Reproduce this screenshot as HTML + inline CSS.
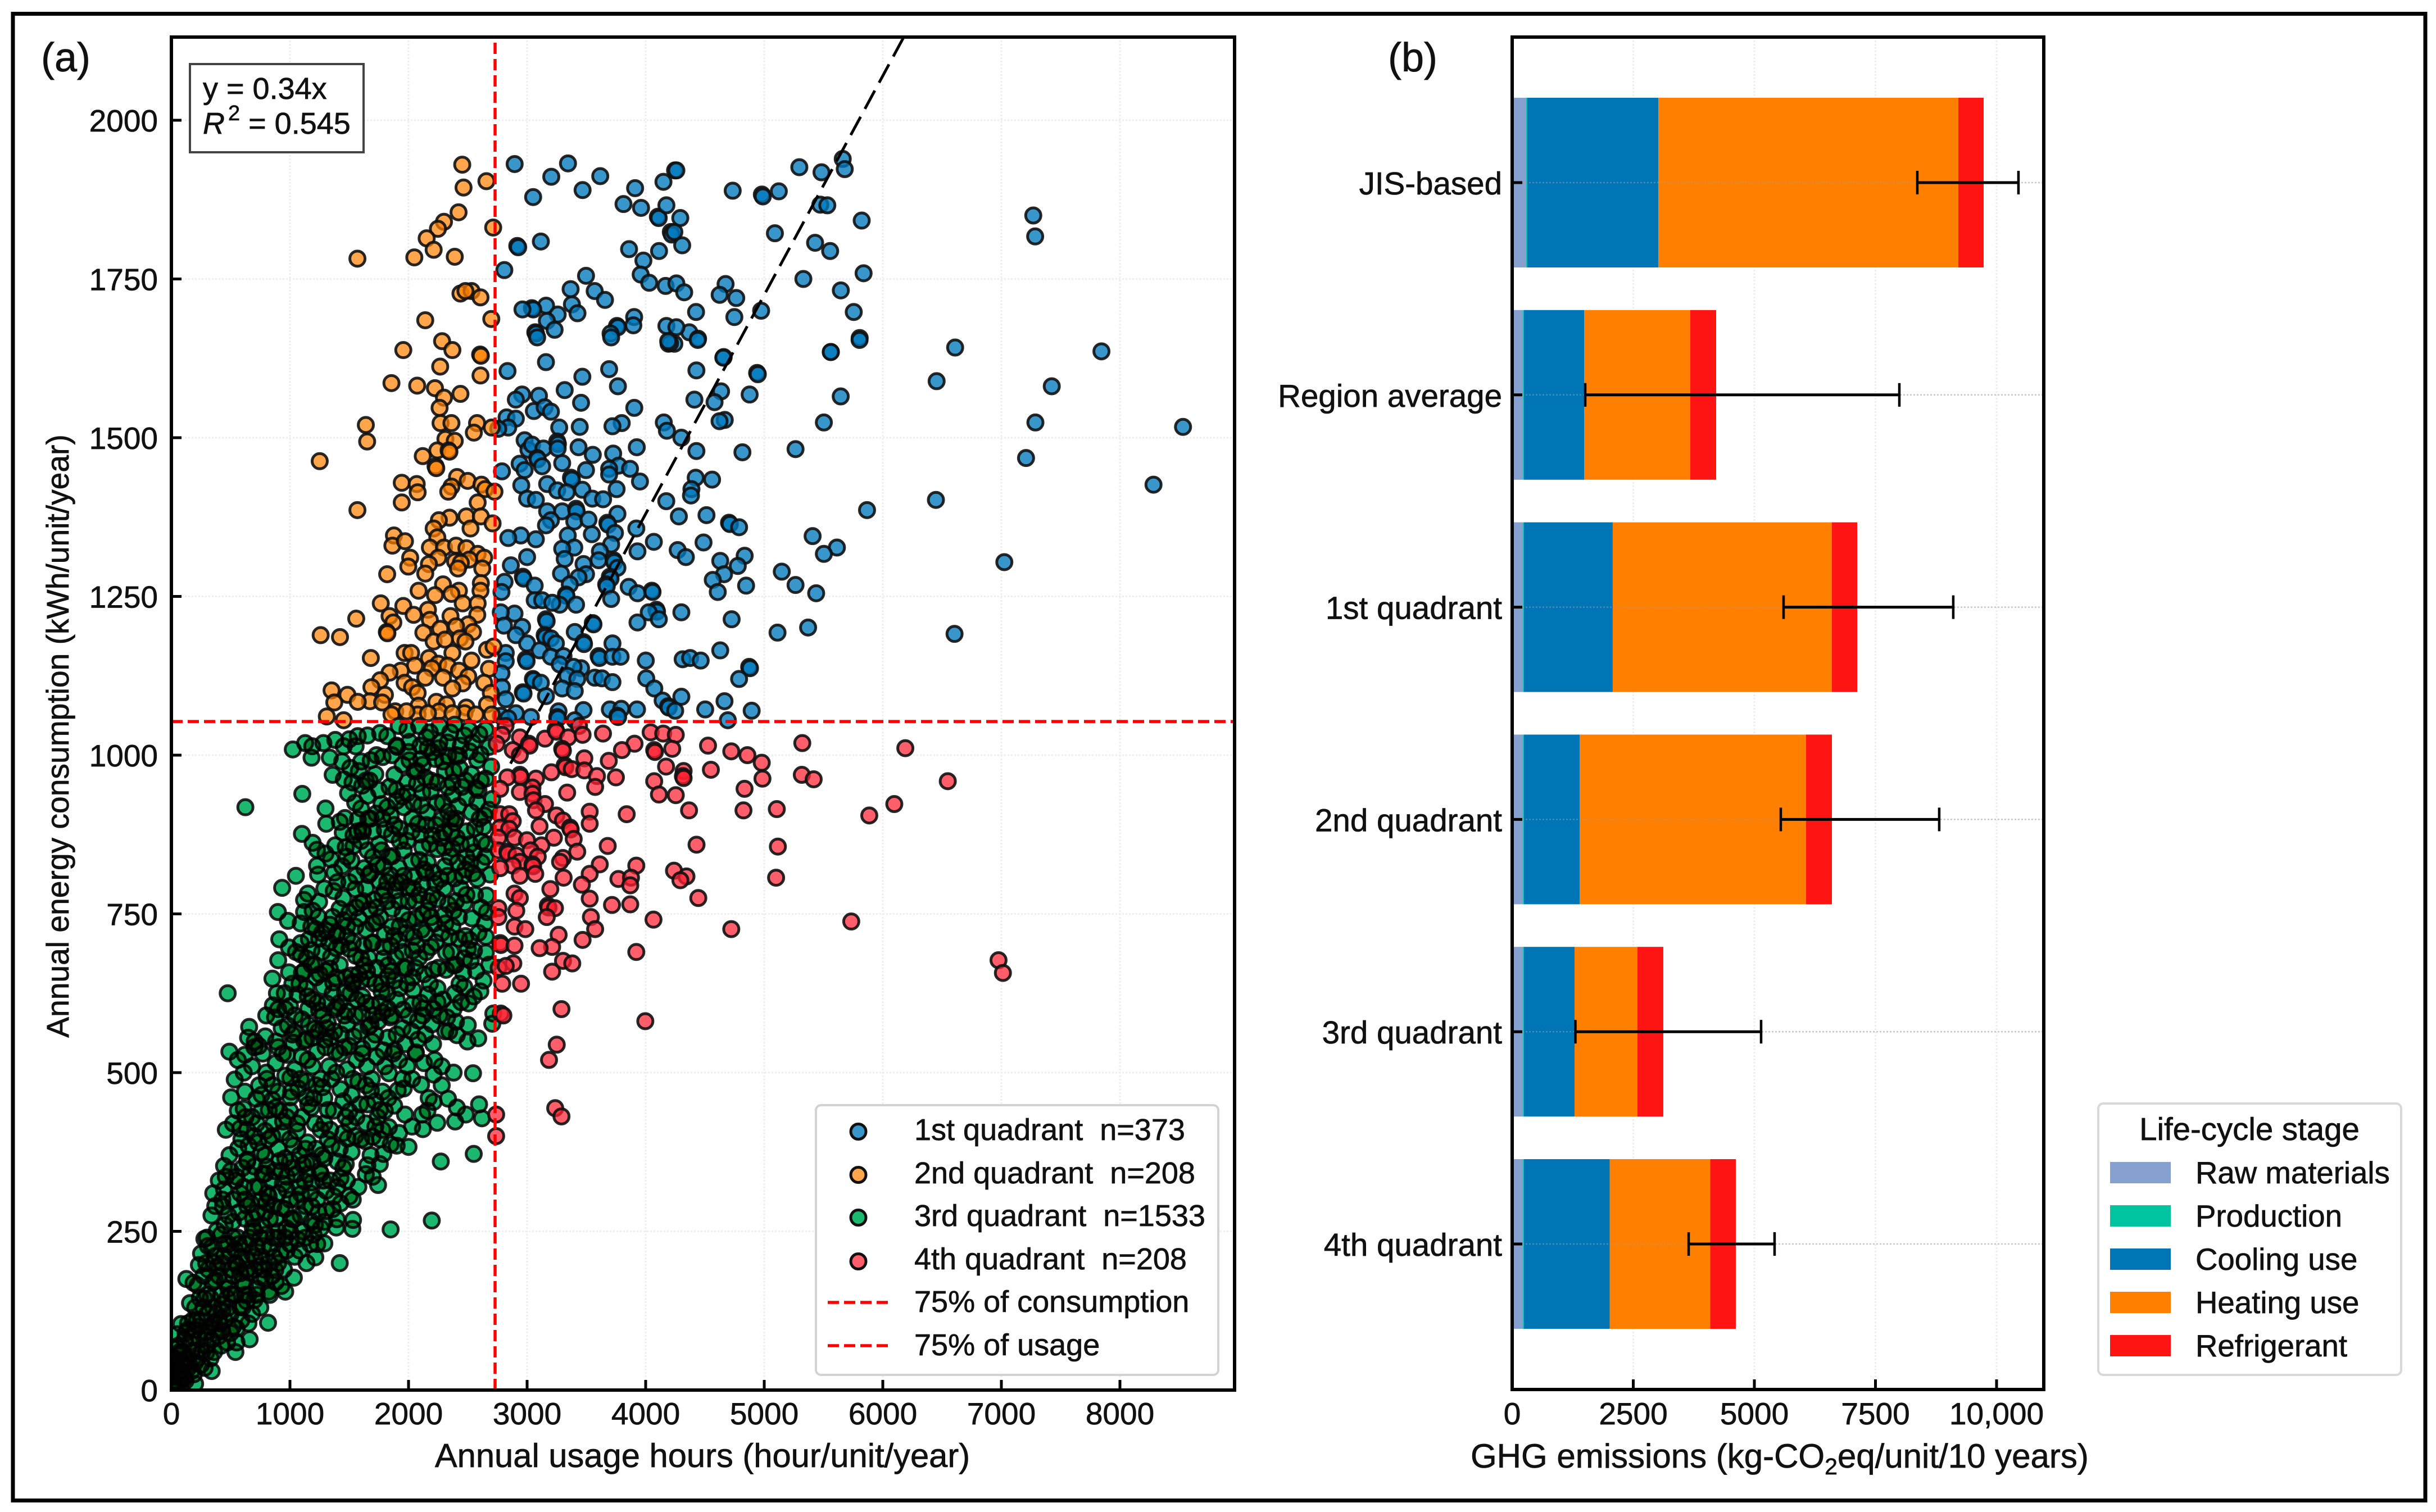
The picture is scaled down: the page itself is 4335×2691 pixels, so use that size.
<!DOCTYPE html>
<html lang="en">
<head>
<meta charset="utf-8">
<title>Energy consumption quadrants and life-cycle GHG emissions</title>
<style>
html,body{margin:0;padding:0;background:#fff;}
svg{display:block;}
text{font-family:"Liberation Sans",sans-serif;fill:#111;stroke:#111;stroke-width:0.7;white-space:pre;}
.multiply circle{mix-blend-mode:multiply;}
</style>
</head>
<body>
<svg id="chart" xmlns="http://www.w3.org/2000/svg" width="4335" height="2691" viewBox="0 0 4335 2691">
<rect x="0" y="0" width="4335" height="2691" fill="#fff"/>
<rect x="23" y="24.5" width="4293" height="2646" fill="none" stroke="#000" stroke-width="7"/>
<defs>
<clipPath id="clipA"><rect x="305" y="66" width="1892" height="2408"/></clipPath>
<clipPath id="clipB"><rect x="2691" y="66" width="946" height="2407"/></clipPath>
</defs>
<g id="panelA"></g>
<g id="panelB"></g>

<text x="73" y="127" font-size="72">(a)</text>
<text x="2470" y="127" font-size="72">(b)</text>

<text x="1250" y="2611" font-size="59.7" text-anchor="middle">Annual usage hours (hour/unit/year)</text>
<text transform="translate(122,1310) rotate(-90)" font-size="55.2" text-anchor="middle">Annual energy consumption (kWh/unit/year)</text>
<text x="2617" y="2612" font-size="60">GHG emissions (kg-CO<tspan font-size="41" dy="12">2</tspan><tspan dy="-12">eq/unit/10 years)</tspan></text>

<g>
<rect x="338" y="114" width="309" height="157" fill="#fff" stroke="#444" stroke-width="4"/>
<text x="361" y="176" font-size="54">y = 0.34x</text>
<text x="361" y="238" font-size="54"><tspan font-style="italic">R</tspan><tspan font-size="38" dy="-24" dx="6">2</tspan><tspan dy="24"> = 0.545</tspan></text>
</g>

<g>
<rect x="1452" y="1967" width="716" height="480" rx="9" fill="#fff" fill-opacity="0.9" stroke="#d2d2d2" stroke-width="4"/>
<circle cx="1527.5" cy="2014" r="13.5" fill="#0079BC" fill-opacity="0.78" stroke="#111" stroke-width="5"/>
<circle cx="1527.5" cy="2091" r="13.5" fill="#FF8000" fill-opacity="0.7" stroke="#111" stroke-width="5"/>
<circle cx="1527.5" cy="2167" r="13.5" fill="#1DB870" stroke="#111" stroke-width="5"/>
<circle cx="1527.5" cy="2245" r="13.5" fill="#FF2030" fill-opacity="0.72" stroke="#111" stroke-width="5"/>
<line x1="1473" x2="1581" y1="2318" y2="2318" stroke="#f00" stroke-width="5.5" stroke-dasharray="20 9"/>
<line x1="1473" x2="1581" y1="2395" y2="2395" stroke="#f00" stroke-width="5.5" stroke-dasharray="20 9"/>
<text x="1627" y="2029" font-size="54">1st quadrant  n=373</text>
<text x="1627" y="2106" font-size="54">2nd quadrant  n=208</text>
<text x="1627" y="2182" font-size="54">3rd quadrant  n=1533</text>
<text x="1627" y="2259" font-size="54">4th quadrant  n=208</text>
<text x="1627" y="2335" font-size="54">75% of consumption</text>
<text x="1627" y="2412" font-size="54">75% of usage</text>
</g>

<g>
<rect x="3734" y="1964" width="539" height="483" rx="9" fill="#fff" stroke="#d8d8d8" stroke-width="4"/>
<text x="4003" y="2029" font-size="56.4" text-anchor="middle">Life-cycle stage</text>
<rect x="3755" y="2068" width="108" height="38" fill="#86A0CF"/>
<rect x="3755" y="2145" width="108" height="38" fill="#00C3A0"/>
<rect x="3755" y="2222" width="108" height="38" fill="#0075B6"/>
<rect x="3755" y="2299" width="108" height="38" fill="#FF8000"/>
<rect x="3755" y="2376" width="108" height="38" fill="#FF1414"/>
<text x="3907" y="2106" font-size="54.6">Raw materials</text>
<text x="3907" y="2183" font-size="54.6">Production</text>
<text x="3907" y="2260" font-size="54.6">Cooling use</text>
<text x="3907" y="2337" font-size="54.6">Heating use</text>
<text x="3907" y="2414" font-size="54.6">Refrigerant</text>
</g>

<script>
// ---- Panel (a) data: [usage hours, kWh] ----
const usageTicks=[0,1000,2000,3000,4000,5000,6000,7000,8000];
const consumptionTicks=[0,250,500,750,1000,1250,1500,1750,2000];
const usageP75=2730;
const consumptionP75=1053;
const trendSlope=0.345;
const trendStart=2860;

const q1Points=[[2895,1931],[3345,1932],[3204,1911],[3617,1912],[3051,1879],[3468,1890],[3911,1893],[4150,1903],[4248,1921],[3813,1868],[3961,1862],[4103,1848],[4110,1846],[4175,1866],[3116,1809],[2917,1802],[2925,1800],[3860,1797],[4113,1794],[4212,1824],[4220,1820],[3981,1779],[2808,1764],[3497,1755],[3958,1757],[4030,1744],[4168,1739],[3367,1734],[3570,1731],[3657,1717],[3378,1710],[3160,1708],[3040,1704],[3052,1702],[2961,1702],[3258,1694],[3425,1696],[3167,1684],[3232,1670],[3069,1666],[3075,1664],[3903,1690],[3896,1677],[3758,1676],[3765,1674],[3704,1664],[4175,1676],[4193,1648],
[4259,1921],[5296,1926],[5483,1918],[5662,1939],[5679,1923],[4734,1889],[4980,1883],[4988,1880],[5123,1888],[5473,1867],[5532,1866],[5822,1842],[7269,1850],[7285,1817],[4292,1846],[4242,1824],[4308,1803],[5090,1822],[5429,1807],[5556,1794],[5838,1759],[5330,1750],[5646,1732],[4674,1742],[4624,1725],[4764,1720],[4259,1743],[4325,1729],[4425,1698],[4748,1690],[4974,1700],[5755,1698],[5805,1657],[5562,1635],[6610,1642],[7844,1636],[4368,1666],[4442,1656],[4259,1674],[4242,1648],[4658,1627],[6454,1589],[7425,1581],[8283,1426],[8532,1517],[7208,1468],[7287,1524],[6448,1402],[7025,1304],[6605,1191],
[3709,1658],[3085,1658],[4206,1649],[4190,1652],[4439,1654],[5804,1654],[5561,1635],[4655,1626],[3159,1619],[2835,1605],[3692,1608],[3466,1596],[4428,1606],[4940,1602],[4946,1600],[3766,1581],[3317,1575],[2958,1568],[2905,1560],[3100,1566],[3455,1555],[4636,1573],[4411,1560],[4581,1556],[4877,1568],[5645,1565],[3904,1547],[3057,1542],[3148,1548],[3201,1541],[2827,1532],[2905,1530],[3798,1523],[3720,1518],[4153,1524],[4179,1511],[4667,1528],[4623,1526],[5503,1524],[3271,1516],[3444,1517],[2841,1516],[2757,1514],[4301,1500],[2979,1496],[3254,1494],[3260,1490],[3011,1481],[3042,1489],[3138,1483],[3258,1483],[3434,1485],[3925,1485],[5264,1482],[4428,1479],[4816,1477],[3554,1473],[3726,1475],[3085,1468],[3090,1466],[2937,1459],[3296,1460],[3127,1455],[2979,1449],[2788,1447],[3497,1449],[3772,1456],[3868,1451],[3692,1451],[3692,1442],[3370,1437],[3378,1434],[4422,1437],[4560,1434],[3952,1431],[3169,1427],[2951,1425],[3755,1419],[3466,1418],[4386,1419],[4382,1409],[3254,1417],[3334,1414],[3000,1404],[3074,1402],[3550,1404],[3641,1403],[4174,1400],[3169,1384],[3296,1384],[3413,1388],[3418,1384],[3762,1380],[4280,1376],[4513,1378],[5867,1386],[3201,1370],[3159,1362],[3398,1368],[3518,1371],[3677,1366],[3684,1363],[4703,1366],[4710,1364],[4788,1359],[3921,1357],[3741,1350],[3546,1348],[3343,1346],[2947,1346],[2841,1342],[3074,1340],[5408,1345],[4069,1336],[4488,1335],[5613,1327],[5503,1317],[3709,1332],[3398,1327],[3296,1325],[4270,1323],[4339,1312],[3931,1321],[3614,1321],[3000,1312],[4835,1314],[3317,1309],[3603,1307],[3730,1307],[3735,1304],[3476,1301],[2863,1299],[4629,1306],[4777,1298],[5148,1289],[3762,1295],[3286,1286],[3497,1285],[2964,1281],[2970,1278],[3698,1281],[3704,1278],[3434,1280],[2810,1273],[4661,1285],[4566,1276],[3667,1269],[3672,1266],[3064,1267],[4847,1267],[5264,1268],[3857,1265],[3360,1269],[5438,1255],[4052,1259],[4058,1257],[3931,1255],[3328,1253],[3332,1251],[2784,1257],[4608,1257],[3709,1246],[3064,1244],[3127,1244],[3413,1237],[3275,1237],[3212,1240],[4090,1229],[4096,1226],[4026,1225],[4301,1225],[2894,1223],[2778,1225],[4111,1214],[4725,1214],[3159,1214],[3165,1211],[3554,1208],[3560,1206],[3931,1209],[2805,1204],[2958,1202],[5370,1201],[5112,1193],[3402,1194],[3148,1189],[3154,1186],[2905,1189],[3201,1184],[3476,1178],[3480,1175],[3243,1176],[3000,1176],[3720,1176],[3106,1165],[4629,1165],[2820,1161],[3201,1155],[3307,1156],[3603,1156],[3610,1153],[3720,1155],[3789,1155],[2990,1151],[2996,1148],[4312,1151],[4375,1153],[4464,1149],[4001,1149],[2820,1148],[4873,1139],[4880,1137],[3275,1143],[3455,1137],[3392,1139],[2784,1129],[3339,1125],[4005,1121],[4788,1120],[3571,1122],[3631,1121],[3049,1120],[3055,1118],[3116,1114],[3423,1120],[3720,1115],[2788,1107],[3296,1105],[2964,1099],[2970,1097],[4073,1105],[3402,1101],[3159,1093],[4301,1092],[2820,1088],[4665,1085],[4143,1086],[4189,1077],[4195,1075],[4249,1070],[3265,1069],[3476,1071],[3698,1072],[3794,1073],[3927,1072],[4502,1072],[4894,1070],[3762,1062],[3768,1060],[2905,1066],[3032,1060],[2778,1062],[4693,1055],[3254,1060],[3260,1058],[3402,1055],[2841,1058]];

const q2Points=[[2453,1930],[2657,1904],[2464,1894],[2422,1855],[2299,1840],[2248,1829],[2714,1831],[2153,1814],[2212,1796],[2049,1784],[2390,1785],[1569,1782],[2438,1727],[2532,1731],[2480,1731],[2607,1721],[2698,1687],[2141,1685],[2283,1652],[2370,1638],[1956,1638],[2604,1631],[2610,1629],[2267,1612],[2607,1598],[1856,1586],[2073,1582],[2223,1578],[2299,1563],[2438,1569],[2262,1547],[2270,1523],[2362,1523],[2578,1523],[2551,1508],[2702,1516],[1640,1520],[1651,1494],[2311,1498],[2390,1495],[2243,1480],[2338,1480],[2345,1478],[2120,1471],[2228,1455],[2234,1452],[1251,1463],[1943,1429],[2069,1427],[2077,1414],[2409,1438],[2499,1432],[2362,1423],[2335,1415],[2615,1426],[2646,1419],[2725,1415],[1943,1398],[1569,1386],[2583,1398],[2488,1376],[2610,1376],[2346,1374],[2256,1370],[2709,1365],[2523,1357],[2212,1357],[1877,1346],[1864,1330],[1970,1337],[2243,1343],[2180,1327],[2299,1327],[2401,1330],[2488,1326],[2583,1317],[2014,1311],[2512,1308],[2638,1311],[2251,1311],[2393,1305],[2172,1301],[1998,1297],[2441,1303],[2622,1294],[2417,1294],[2141,1286],[1820,1285],[2610,1271],[2291,1269],[2085,1259],[2425,1259],[2607,1259],[2362,1254],[2223,1252],[1766,1239],[1956,1235],[2457,1239],[2583,1239],[2164,1229],[2043,1221],[2354,1219],[2580,1221],[2180,1213],[1840,1219],[1872,1209],[1559,1215],[1817,1194],[1822,1192],[2504,1206],[2401,1203],[2267,1199],[2125,1193],[2544,1194],[2433,1184],[1259,1189],[1422,1186],[2212,1179],[2307,1182],[2480,1179],[1967,1161],[2022,1161],[2370,1161],[2662,1166],[2717,1171],[1682,1153],[2172,1153],[2531,1149],[2054,1141],[2251,1144],[2330,1141],[1935,1133],[2196,1137],[2678,1136],[1840,1130],[2425,1133],[2504,1124],[2141,1122],[2291,1122],[1761,1118],[1967,1114],[2457,1113],[2638,1114],[2030,1107],[1351,1102],[1485,1095],[1687,1107],[2370,1105],[2694,1098],[2077,1098],[1801,1095],[1675,1085],[1374,1083],[1572,1084],[1777,1083],[2235,1084],[2322,1080],[2662,1080],[2085,1078],[2488,1075],[1888,1069],[2259,1069],[1311,1061],[1453,1055],[2077,1064],[2472,1066],[2702,1064],[1856,1064],[1983,1069],[2164,1066],[2370,1066],[2567,1064]];

const q3Points=[[1654,1031],[1572,1030],[1500,1025],[1382,1024],[1454,1014],[1282,1019],[1188,1014],[1128,1019],[1024,1009],[1182,996],[1336,996],[1554,1014],[1917,1046],[2089,1046],[2262,1046],[2389,1048],[2180,1036],[2352,1036],[2470,1031],[2597,1033],[2008,1021],[1899,1015],[1905,1013],[2162,1011],[2253,1011],[2516,1006],[2607,1001],[2334,999],[2679,1013],[1781,997],[1600,990],[1681,992],[1509,980],[2008,992],[2225,994],[2107,994],[2425,999],[2579,992],[1881,969],[2071,975],[2307,975],[2434,979],[2652,963],[1360,969],[1454,962],[1672,960],[1527,957],[1990,958],[2071,955],[2244,957],[2371,957],[2479,960],[1609,952],[1899,945],[1990,940],[2116,941],[2189,943],[2371,938],[2570,948],[2697,982],[2706,931],[1104,939],[624,918],[1654,936],[2107,921],[2289,925],[2488,933],[1899,928],[2579,926],[1600,916],[1772,923],[1821,918],[1727,908],[1962,918],[1300,916],[2334,911],[2679,914],[2389,894],[2080,892],[1464,901],[1306,892],[1572,899],[2280,899],[2633,887],[1609,882],[1615,880],[1799,883],[1926,884],[2198,874],[2488,880],[2298,879],[2026,880],[1101,876],[1445,878],[1536,874],[2407,870],[1926,865],[2615,864],[1191,862],[2116,855],[2371,853],[2244,852],[1382,858],[1228,851],[1536,857],[1654,850],[1772,850],[1862,841],[2552,847],[2488,840],[1346,836],[1518,834],[2026,833],[2162,831],[2416,831],[2615,831],[1228,826],[1735,827],[1627,822],[1917,823],[2307,825],[1373,815],[1237,812],[2144,815],[2479,820],[2688,812],[2543,814],[1663,811],[1844,811],[1050,810],[2044,808],[2389,806],[1754,801],[2225,798],[1899,799],[934,791],[1990,792],[2116,796],[1369,786],[1551,789],[1151,782],[1799,787],[1890,787],[2089,780],[2488,780],[2657,779],[1119,772],[1246,769],[1708,772],[2000,770],[2244,773],[1590,767],[2470,767],[2334,765],[1863,758],[1418,758],[1500,752],[898,753],[1119,753],[1191,755],[1672,757],[2661,753],[2162,755],[2062,743],[2425,745],[1581,743],[2298,748],[2534,743],[1727,737],[983,739],[1926,731],[2216,735],[1336,733],[2643,735],[1219,726],[1482,731],[1391,716],[1482,714],[1799,718],[1309,723],[2044,714],[2343,714],[2425,711],[2652,714],[910,710],[1092,704],[1246,711],[1917,708],[2516,709],[1690,704],[1789,698],[1182,693],[992,697],[2189,698],[1391,696],[2316,689],[2652,689],[2552,692],[2035,692],[1554,684],[1092,686],[1346,682],[1663,681],[2089,681],[901,677],[1890,682],[1627,669],[1826,669],[1182,670],[2380,669],[2525,676],[1981,665],[1336,664],[2207,662],[2316,662],[1101,657],[992,658],[2461,657],[2633,645],[1518,653],[2035,650],[1219,650],[1663,648],[852,648],[1826,652],[1527,643],[1364,642],[1926,633],[2244,633],[2470,635],[1137,633],[1772,628],[475,625],[956,625],[2606,628],[2162,623],[1064,623],[1464,626],[1609,620],[2389,625],[1563,615],[1309,609],[2035,608],[2244,611],[2443,611],[856,606],[2126,601],[2507,609],[1690,606],[1155,601],[1826,601],[1246,598],[1482,596],[1609,593],[1400,603],[1954,599],[874,587],[1844,587],[2325,587],[2715,593],[1318,579],[2080,582],[2198,576],[1101,584],[2706,577],[1745,581],[656,572],[1482,576],[983,574],[1663,572],[1210,569],[2026,565],[2343,565],[1037,564],[1373,565],[2588,554],[792,557],[1536,557],[647,555],[1826,555],[883,549],[2407,559],[702,549],[1137,552],[1291,552],[2207,545],[1690,549],[1028,547],[2497,549],[1971,545],[2080,552],[738,542],[1500,542],[489,533],[620,528],[974,528],[1228,533],[1382,533],[2062,532],[1881,535],[1609,538],[1790,535],
[534,489],[806,490],[1003,492],[1139,486],[1275,477],[1426,474],[1577,486],[1683,472],[1909,472],[2106,481],[2212,497],[2544,499],[1834,499],[2030,490],[504,461],[716,459],[852,457],[1003,461],[1139,461],[2212,454],[2333,459],[2408,445],[2483,434],[2595,450],[2619,428],[2242,421],[2393,423],[2115,434],[2121,411],[2000,383],[1970,434],[1879,448],[1758,441],[1653,450],[1501,439],[1320,441],[1154,450],[972,430],[821,441],[610,443],[625,430],[580,412],[459,410],[791,408],[1063,408],[1259,410],[1486,396],[1638,392],[1834,414],[1698,399],[1849,387],[564,381],[731,390],[942,423],[2272,360],[2550,372],[1788,372],[1653,354],[1758,356],[1471,356],[1290,365],[1139,358],[912,361],[806,352],[640,363],[444,353],[701,352],[550,336],[1698,336],[1743,323],[1260,341],[1426,334],[1577,320],[1501,305],[972,336],[1124,329],[791,341],[459,336],[353,310],[610,320],[1305,314],[972,316],[1184,327],[821,305],[444,316],[1426,294],[1093,309],[435,289],[670,294],[338,275],[519,265],[927,287],[1184,289],[1305,282],[1033,269],[791,280],[1532,268],[1396,269],[1526,254],[1390,256],[1849,253],[2196,267],[383,251],[1290,265],[686,256],[278,238],[308,227],[534,222],[897,240],[1063,238],[1199,245],[1290,231],[776,227],[444,211],[368,211],[232,197],[293,200],[640,204],[867,209],[972,220],[1214,209],[1139,200],[1420,200],[580,184],[187,169],[126,175],[368,173],[746,178],[876,189],[1033,177],[927,164],[821,155],[504,151],[634,140],[278,144],[429,135],[157,137],[701,142],[580,131],[217,111],[398,111],[815,106],[550,97],[550,75],[338,79],[111,79],[429,93],[51,88],[293,59],[202,44],[66,55],[217,62],[111,19],[51,35],[5,21],[5,53],[157,75],[81,104],[293,91],[142,35],[36,12],[96,39],[51,66],[202,95],
[700,400],[760,375],[850,400],[900,380],[1000,395],[1080,370],[1150,390],[1220,380],[1350,385],[1500,420],[1560,430],[1640,420],[1740,430],[1800,440],[620,300],[700,320],[760,300],[840,330],[900,310],[1000,300],[1050,340],[1130,290],[1230,300],[1340,330],[1450,350],[560,240],[620,270],[700,250],[760,260],[830,270],[900,250],[970,255],[1060,300],[1130,240],[1240,280],[480,230],[540,200],[620,230],[700,210],[750,240],[820,200],[900,200],[950,190],[1000,230],[400,180],[450,170],[520,180],[600,170],[660,185],[720,160],[780,190],[850,180],[300,150],[350,130],[420,150],[480,130],[540,150],[620,150],[680,120],[750,130],[200,130],[250,110],[320,100],[380,120],[450,110],[500,120],[120,90],[170,60],[240,80],[300,70],[360,60],[420,70],[30,30],[80,30],[130,50],[60,70],[100,20],[170,30],[200,10],[20,50],[60,10],[10,10]];

// Estimated positions of partly hidden markers inside the dense green cloud
const q3DensePoints=[[1760,1035],[1990,1040],[2150,1028],[2330,1020],[2510,1040],[2650,1040],[2200,1005],[1860,1000],[2440,1015],[2100,1015],[1950,985],[2050,975],[2140,965],[2290,990],[2380,975],[2530,970],[2610,960],[1720,970],[1580,975],[1440,990],[2190,960],[2330,950],[2450,950],[1840,950],[1950,935],[2040,925],[2160,910],[2240,925],[2420,920],[2530,910],[2640,905],[1850,905],[1750,945],[1550,925],[1680,900],[2360,900],[2590,945],[1700,880],[1860,875],[1990,865],[2100,875],[2230,890],[2360,880],[2560,885],[2440,860],[1470,855],[1600,865],[1750,860],[2180,860],[2300,855],[2660,860],[1420,895],[1300,845],[1440,825],[1560,810],[1700,840],[1790,825],[1960,850],[2090,835],[2210,815],[2350,840],[2460,810],[2580,805],[2650,840],[1500,800],[1820,800],[1960,810],[2270,805],[1290,790],[1450,775],[1640,790],[1730,760],[1920,770],[2040,790],[2170,770],[2300,790],[2400,770],[2560,780],[2610,760],[1560,760],[1820,770],[1950,750],[2120,750],[2380,755],[1090,735],[1240,745],[1400,720],[1550,730],[1640,725],[1760,745],[1860,730],[1980,720],[2110,725],[2190,745],[2280,720],[2370,730],[2480,715],[2590,720],[1160,710],[1330,705],[1450,740],[1700,705],[1850,700],[2000,740],[1050,690],[1140,680],[1270,690],[1420,670],[1500,695],[1600,680],[1730,665],[1860,660],[1950,690],[2060,665],[2150,690],[2250,665],[2360,690],[2470,680],[2570,660],[2680,670],[1250,655],[1390,650],[1580,655],[2130,655],[890,625],[1020,640],[1190,615],[1280,635],[1420,610],[1510,625],[1600,645],[1720,640],[1820,625],[1900,615],[1990,640],[2100,610],[2180,640],[2290,615],[2380,600],[2550,620],[1000,605],[1360,625],[1760,610],[1880,645],[800,590],[930,570],[1040,590],[1160,575],[1280,590],[1430,560],[1550,590],[1680,575],[1780,595],[1900,560],[2000,590],[2140,560],[2260,590],[2400,580],[2500,575],[1120,550],[1240,565],[1340,555],[1590,565],[1720,560],[560,520],[680,510],[770,530],[880,515],[1040,505],[1100,525],[1190,510],[1330,510],[1420,530],[1480,505],[1560,520],[1650,510],[1730,525],[1800,510],[1920,520],[1990,510],[2130,515],[2280,510],[2380,500],[900,540],[1300,540],[620,470],[740,480],[900,470],[960,495],[1070,475],[1200,460],[1350,490],[1450,455],[1520,465],[1640,480],[1720,455],[1830,460],[1960,475],[2170,460],[2280,480],[1090,490],[1260,490],[520,420],[680,430],[760,440],[880,445],[930,405],[1000,440],[1100,430],[1180,445],[1290,420],[1370,440],[1450,405],[1590,450],[1720,415],[1920,405],[2030,415],[2160,440],[490,370],[590,395],[650,385],[820,395],[960,365],[1030,385],[1110,355],[1190,360],[1320,395],[1420,380],[1520,375],[1600,395],[1760,395],[1900,385],[400,330],[500,345],[580,310],[660,340],[740,320],[870,345],[940,325],[1020,350],[1170,310],[1250,345],[1370,305],[1480,330],[1640,340],[370,290],[480,275],[570,280],[640,290],[720,280],[800,295],[880,270],[960,285],[1090,275],[1180,265],[1260,255],[1360,285],[250,215],[340,225],[420,245],[500,215],[590,210],[660,240],[720,225],[830,225],[920,215],[1000,250],[1080,220],[1170,230],[220,165],[310,190],[390,195],[480,160],[560,195],[620,165],[700,190],[790,175],[880,170],[960,155],[140,105],[240,145],[330,145],[410,105],[470,145],[590,110],[650,105],[720,150],[70,60],[140,95],[230,100],[290,85],[370,95],[470,75],[540,60],[15,30],[40,45],[70,20],[120,15],[150,40],[250,40],[30,5],[85,45]];

const q3HiddenPoints=[[1640,960],[1730,1000],[1820,1030],[2000,1005],[2120,985],[2260,1020],[2400,1000],[2540,1020],[1490,940],[1570,880],[1660,900],[1780,900],[1880,890],[2030,900],[2150,890],[2270,870],[2400,900],[2520,860],[2600,900],[1400,800],[1480,840],[1620,770],[1680,815],[1780,780],[1840,840],[1940,800],[2060,770],[2130,820],[2200,780],[2330,810],[2440,790],[2520,830],[1180,730],[1270,720],[1360,745],[1430,700],[1530,705],[1620,700],[1700,735],[1790,680],[1880,715],[1960,665],[2070,700],[2140,720],[2230,705],[2310,735],[2400,670],[2500,695],[1120,660],[1210,670],[1300,660],[1470,650],[1650,660],[960,600],[1080,640],[1150,620],[1230,610],[1310,570],[1380,600],[1460,590],[1530,640],[1640,610],[1700,590],[1770,640],[1860,590],[1950,570],[2040,630],[2120,590],[2210,600],[2310,565],[2430,640],[900,600],[1020,560],[1190,555],[700,540],[800,500],[850,480],[940,530],[1010,470],[1150,520],[1220,480],[1290,460],[1390,500],[1460,540],[1530,490],[1610,530],[1690,490],[1780,470],[1870,530],[1950,490],[2060,530],[2220,520],[610,500],[760,465],[560,440],[640,410],[720,420],[790,370],[860,420],[910,440],[1000,360],[1060,420],[1130,380],[1210,420],[1270,370],[1340,410],[1400,360],[1470,430],[1550,400],[1680,370],[1780,410],[640,360],[430,300],[520,300],[600,350],[690,270],[770,340],[810,310],[860,290],[930,345],[1010,270],[1080,320],[1150,340],[1210,260],[1280,330],[1400,320],[1530,300],[450,260],[540,330],[300,240],[360,200],[450,230],[520,240],[570,230],[640,190],[680,215],[760,210],[800,245],[860,240],[960,240],[1040,210],[1110,250],[1230,230],[270,180],[350,170],[430,200],[500,190],[650,150],[740,195],[830,150],[180,110],[270,130],[300,120],[360,105],[430,125],[520,100],[600,130],[660,80],[180,85],[260,60],[330,50],[400,85],[500,90],[50,25],[90,60],[110,40],[190,25],[220,50],[280,35],[340,30],[20,15]];

const q4Points=[[2818,1046],[2788,1032],[2939,1028],[3015,1018],[3021,1015],[3151,1026],[3241,1040],[3247,1037],[3438,1046],[3347,1028],[3468,1032],[3640,1034],[4042,1036],[4148,1034],[4254,1032],[2743,1018],[2879,1008],[2939,1000],[3296,1010],[3302,1007],[3906,1018],[3800,1008],[4072,1008],[4078,1005],[4224,1010],[4526,1015],[4722,1006],[4858,1000],[4979,988],[5321,1019],[3483,995],[3689,991],[3317,984],[3323,981],[3377,978],[3483,976],[4172,982],[4320,975],[4314,967],[4320,964],[4550,977],[3205,973],[2939,969],[2945,966],[2833,965],[3075,963],[3589,967],[3749,965],[4985,963],[5317,969],[5417,962],[4072,959],[3574,950],[2773,947],[3045,949],[2939,942],[3338,941],[4112,938],[4254,937],[4834,947],[3045,939],[3054,929],[3151,923],[4366,913],[4825,913],[5106,915],[3840,907],[3528,911],[3528,892],[5886,905],[6097,923],[2773,907],[2849,907],[3075,913],[3247,905],[3302,897],[3362,886],[3368,883],[3105,888],[2879,896],[2773,886],[2849,884],[2894,870],[2999,866],[3226,870],[3393,868],[2758,870],[3121,858],[3680,857],[4429,859],[5115,856],[3423,848],[2758,850],[2833,848],[2839,845],[2909,842],[3030,850],[3090,840],[2939,832],[3045,828],[3051,825],[2879,826],[2773,822],[3302,838],[3278,832],[3613,828],[3921,826],[4239,818],[4344,809],[4293,803],[5100,807],[2939,810],[3069,813],[3308,807],[3528,813],[3770,805],[3876,807],[3870,795],[3462,796],[3196,789],[2894,782],[2939,775],[3528,774],[4444,775],[3175,763],[3181,760],[3235,759],[3716,764],[3870,765],[3166,745],[2909,755],[2758,759],[2758,745],[3538,745],[4066,741],[5734,738],[2894,730],[2985,726],[3574,726],[4722,726],[3266,717],[3468,709],[2773,704],[2779,701],[2894,700],[3211,698],[3921,690],[6190,1011],[6548,959],[6976,677],[7013,657],[3997,581],[3290,600],[3250,544],[3185,520],[3237,444],[3290,431],[2778,593],[2800,590],[2739,434],[2739,400],[2884,672],[2949,640],[3106,696],[3211,659],[3303,676],[3381,672],[2790,640],[2760,665],[2820,668]];

// ---- Panel (b) data ----
const stageCategories=['JIS-based','Region average','1st quadrant','2nd quadrant','3rd quadrant','4th quadrant'];
const rawMaterials=[290,222,222,222,222,222];
const production=[23,22,22,22,22,22];
const coolingUse=[2703,1241,1832,1148,1044,1769];
const heatingUse=[6195,2192,4525,4675,1299,2076];
const refrigerant=[522,534,522,534,533,528];
const errorLow=[8364,1508,5603,5545,1305,3643];
const errorHigh=[10452,7993,9106,8816,5139,5417];
const emissionTicks=[0,2500,5000,7500,10000];
const emissionTickLabels=['0','2500','5000','7500','10,000'];

// ---- Axis functions ----
const xA=v=>305+v*0.211;
const yA=v=>2474-v*1.13;
const xB=v=>2691+v*0.0862;
const yB=i=>325+i*377.8;
const barHeight=302;
const NS='http://www.w3.org/2000/svg';

function mk(tag,parent,attrs){
  const el=document.createElementNS(NS,tag);
  for(const k in attrs)el.setAttribute(k,attrs[k]);
  parent.appendChild(el);
  return el;
}

const A=document.getElementById('panelA');
const B=document.getElementById('panelB');

// Panel A grid
usageTicks.slice(1).forEach(v=>{
  const g=mk('line',A,{x1:xA(v),x2:xA(v),y1:66,y2:2474,stroke:'#eeeeee','stroke-width':3,'stroke-dasharray':'3 3'});
  
  
});
consumptionTicks.slice(1).forEach(v=>{
  const g=mk('line',A,{x1:305,x2:2197,y1:yA(v),y2:yA(v),stroke:'#eeeeee','stroke-width':3,'stroke-dasharray':'3 3'});
  
  
});

function drawSeries(points,name,fill,opacity,cls){
  const g=mk('g',A,{'clip-path':'url(#clipA)'});
  
  
  if(cls)g.setAttribute('class',cls);
  points.forEach(p=>{
    const c=mk('circle',g,{cx:xA(p[0]),cy:yA(p[1]),r:13.5,fill:fill,'fill-opacity':opacity,stroke:'#111','stroke-opacity':0.9,'stroke-width':5});
    
    
  });
}
drawSeries(q1Points,'first-quadrant','#0079BC',0.78,'');
drawSeries(q2Points,'second-quadrant','#FF8000',0.7,'');
drawSeries(q3HiddenPoints.concat(q3DensePoints,q3Points),'third-quadrant','#1DB870',1,'multiply');
drawSeries(q4Points,'fourth-quadrant','#FF2030',0.72,'');

// Fit line and reference lines
const trendEnd=(2474-66)/1.13/trendSlope;
const trend=mk('line',A,{x1:xA(trendStart),y1:yA(trendStart*trendSlope),x2:xA(trendEnd),y2:yA(trendEnd*trendSlope),stroke:'#000','stroke-width':5,'stroke-dasharray':'37 16'});


const hLine=mk('line',A,{x1:305,x2:2197,y1:yA(consumptionP75),y2:yA(consumptionP75),stroke:'#f00','stroke-width':5.5,'stroke-dasharray':'20 9'});


const vLine=mk('line',A,{x1:xA(usageP75),x2:xA(usageP75),y1:2474,y2:66,stroke:'#f00','stroke-width':5.5,'stroke-dasharray':'20 9'});



// Panel A frame
const frameA=mk('rect',A,{x:305,y:66,width:1892,height:2408,fill:'none',stroke:'#000','stroke-width':6});



usageTicks.forEach(v=>{
  const t=mk('line',A,{x1:xA(v),x2:xA(v),y1:2474,y2:2456,stroke:'#000','stroke-width':5});
  
  
  const l=mk('text',A,{x:xA(v),y:2535,'font-size':55,'text-anchor':'middle'});
  l.textContent=String(v);
  
  
});
consumptionTicks.forEach(v=>{
  const t=mk('line',A,{x1:305,x2:323,y1:yA(v),y2:yA(v),stroke:'#000','stroke-width':5});
  
  
  const l=mk('text',A,{x:281,y:yA(v)+20,'font-size':55,'text-anchor':'end'});
  l.textContent=String(v);
  
  
});

// Panel B gridlines (vertical below bars)
emissionTicks.slice(1).forEach(v=>{
  const g=mk('line',B,{x1:xB(v),x2:xB(v),y1:66,y2:2473,stroke:'#eeeeee','stroke-width':3,'stroke-dasharray':'3 3'});
  
  
});

// Stacked bars
const stages=[
  {name:'raw-materials',values:rawMaterials,color:'#86A0CF'},
  {name:'production',values:production,color:'#00C3A0'},
  {name:'cooling-use',values:coolingUse,color:'#0075B6'},
  {name:'heating-use',values:heatingUse,color:'#FF8000'},
  {name:'refrigerant',values:refrigerant,color:'#FF1414'}
];
stageCategories.forEach((cat,i)=>{
  let acc=0;
  stages.forEach(s=>{
    const v=s.values[i];
    const r=mk('rect',B,{x:xB(acc),y:yB(i)-barHeight/2,width:xB(acc+v)-xB(acc),height:barHeight,fill:s.color});
    
    
    acc+=v;
  });
  const g=mk('line',B,{x1:2691,x2:3637,y1:yB(i),y2:yB(i),stroke:'#999','stroke-opacity':0.55,'stroke-width':2.5,'stroke-dasharray':'3 3'});
  
  
});

// Error bars
stageCategories.forEach((cat,i)=>{
  const e=mk('line',B,{x1:xB(errorLow[i]),x2:xB(errorHigh[i]),y1:yB(i),y2:yB(i),stroke:'#000','stroke-width':5});
  
  
  [errorLow[i],errorHigh[i]].forEach(v=>{
    const c=mk('line',B,{x1:xB(v),x2:xB(v),y1:yB(i)-21,y2:yB(i)+21,stroke:'#000','stroke-width':4.5});
    
    
  });
});

// Panel B frame, ticks, labels
const frameB=mk('rect',B,{x:2691,y:66,width:946,height:2407,fill:'none',stroke:'#000','stroke-width':6});


stageCategories.forEach((cat,i)=>{
  const t=mk('line',B,{x1:2691,x2:2709,y1:yB(i),y2:yB(i),stroke:'#000','stroke-width':5});
  
  
  const l=mk('text',B,{x:2673,y:yB(i)+21,'font-size':56.5,'text-anchor':'end'});
  l.textContent=cat;
  
  
});
emissionTicks.forEach((v,i)=>{
  const t=mk('line',B,{x1:xB(v),x2:xB(v),y1:2473,y2:2455,stroke:'#000','stroke-width':5});
  
  
  const l=mk('text',B,{x:xB(v),y:2535,'font-size':55,'text-anchor':'middle'});
  l.textContent=emissionTickLabels[i];
  
  
});
</script>
</svg>
</body>
</html>
